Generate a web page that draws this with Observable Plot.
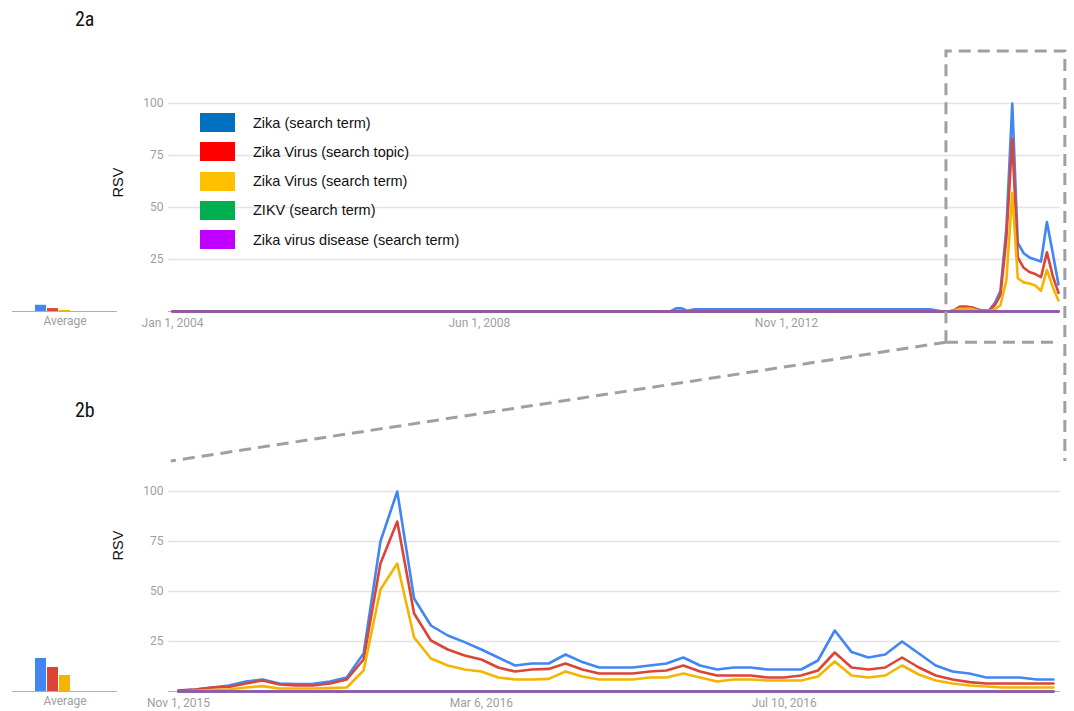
<!DOCTYPE html>
<html><head><meta charset="utf-8">
<script src="https://cdn.jsdelivr.net/npm/d3@7"></script>
<script src="https://cdn.jsdelivr.net/npm/@observablehq/plot@0.6"></script>
<style>
body{margin:0;background:#fff;}
#page{position:relative;width:1074px;height:711px;overflow:hidden;font-family:Roboto,sans-serif;background:#fff;}
#page svg{position:absolute;left:0;}
.title{position:absolute;font-family:"Liberation Sans Narrow","Roboto Condensed",Arial,sans-serif;font-size:20px;color:#111;line-height:20px;}
.legend-row{position:absolute;left:200px;height:19px;display:flex;align-items:center;font-family:"Liberation Sans",Arial,sans-serif;font-size:14.5px;color:#111;white-space:nowrap;}
.sw{width:35px;height:19px;margin-right:18px;}
</style></head><body><div id="page"></div>
<script>
// ---------- data ----------
const seriesNames = ["Zika (search term)", "Zika Virus (search topic)", "Zika Virus (search term)", "ZIKV (search term)", "Zika virus disease (search term)"];
const lineColors = ["#4285F4", "#DB4437", "#F4B400", "#0F9D58", "#AB47BC"];
const legendColors = ["#0070C0", "#FF0000", "#FFC000", "#00B050", "#C000FF"];

// 2a: monthly RSV, Jan 2004 .. Oct 2016 (one row per year)
const topBlue = [
 0,0,0,0,0,0,0,0,0,0,0,0,
 0,0,0,0,0,0,0,0,0,0,0,0,
 0,0,0,0,0,0,0,0,0,0,0,0,
 0,0,0,0,0,0,0,0,0,0,0,0,
 0,0,0,0,0,0,0,0,0,0,0,0,
 0,0,0,0,0,0,0,0,0,0,0,0,
 0,0,0,0,0,0,0,0,0,0,0,0,
 0,0,0,1.5,1.5,0.3,1,1,1,1,1,1,
 1,1,1,1,1,1,1,1,1,1,1,1,
 1,1,1,1,1,1,1,1,1,1,1,1,
 1,1,1,1,1,1,1,1,1,1,1,1,
 0.5,0,0,0.5,2,2,2,1,0.5,0.5,4,10,
 40,100,33,28,26,25,24,43,28,13];
const topRed = [
 0,0,0,0,0,0,0,0,0,0,0,0,
 0,0,0,0,0,0,0,0,0,0,0,0,
 0,0,0,0,0,0,0,0,0,0,0,0,
 0,0,0,0,0,0,0,0,0,0,0,0,
 0,0,0,0,0,0,0,0,0,0,0,0,
 0,0,0,0,0,0,0,0,0,0,0,0,
 0,0,0,0,0,0,0,0,0,0,0,0,
 0,0,0,0,0,0,0,0,0,0,0,0,
 0,0,0,0,0,0,0,0,0,0,0,0,
 0,0,0,0,0,0,0,0,0,0,0,0,
 0,0,0,0,0,0,0,0,0,0,0,0,
 0,0,0,0.5,2.4,2.4,2,1,0.3,0.3,3,8,
 35,83,26,21,19,18,16.5,28.5,17,9];
const topYellow = [
 0,0,0,0,0,0,0,0,0,0,0,0,
 0,0,0,0,0,0,0,0,0,0,0,0,
 0,0,0,0,0,0,0,0,0,0,0,0,
 0,0,0,0,0,0,0,0,0,0,0,0,
 0,0,0,0,0,0,0,0,0,0,0,0,
 0,0,0,0,0,0,0,0,0,0,0,0,
 0,0,0,0,0,0,0,0,0,0,0,0,
 0,0,0,0,0,0,0,0,0,0,0,0,
 0,0,0,0,0,0,0,0,0,0,0,0,
 0,0,0,0,0,0,0,0,0,0,0,0,
 0,0,0,0,0,0,0,0,0,0,0,0,
 0,0,0,0.3,1.3,1.3,1.3,0.5,0.2,0.2,1,3,
 15,57,16,14,13.5,12.5,10,20,11.7,5.3];
const topGreen = [
 0,0,0,0,0,0,0,0,0,0,0,0,
 0,0,0,0,0,0,0,0,0,0,0,0,
 0,0,0,0,0,0,0,0,0,0,0,0,
 0,0,0,0,0,0,0,0,0,0,0,0,
 0,0,0,0,0,0,0,0,0,0,0,0,
 0,0,0,0,0,0,0,0,0,0,0,0,
 0,0,0,0,0,0,0,0,0,0,0,0,
 0,0,0,0,0,0,0,0,0,0,0,0,
 0,0,0,0,0,0,0,0,0,0,0,0,
 0,0,0,0,0,0,0,0,0,0,0,0,
 0,0,0,0,0,0,0,0,0,0,0,0,
 0,0,0,0,0,0,0,0,0,0,0,0,
 0,0,0,0,0,0,0,0,0,0];
const topPurple = [
 0,0,0,0,0,0,0,0,0,0,0,0,
 0,0,0,0,0,0,0,0,0,0,0,0,
 0,0,0,0,0,0,0,0,0,0,0,0,
 0,0,0,0,0,0,0,0,0,0,0,0,
 0,0,0,0,0,0,0,0,0,0,0,0,
 0,0,0,0,0,0,0,0,0,0,0,0,
 0,0,0,0,0,0,0,0,0,0,0,0,
 0,0,0,0,0,0,0,0,0,0,0,0,
 0,0,0,0,0,0,0,0,0,0,0,0,
 0,0,0,0,0,0,0,0,0,0,0,0,
 0,0,0,0,0,0,0,0,0,0,0,0,
 0,0,0,0,0,0,0,0,0,0,0,0,
 0,0,0,0,0,0,0,0,0,0];
const topStart = "2004-01-01";
const topTicks = ["2004-01-01", "2008-06-01", "2012-11-01"];
const topAverages = [3, 1.4, 0.5, 0, 0];

// 2b: weekly RSV, Nov 1 2015 .. Oct 30 2016
const botBlue = [0.5,1,2,3,5,6,4,3.7,3.8,5,7,19,75,100,46.5,33,28,24.7,21,17,13,14,14,18.5,14.7,12,12,12,13,14,17,13,11,12,12,11,11,11,15.5,30.5,19.7,17,18.5,25,19,13,10,9,7,7,7,6,6];
const botRed = [0.5,1,2,2.3,4,5.5,3.5,3,3,4,6,16,64,85,39,25.5,21,18,16,12,10,11,11.3,14,11,9,9,9,10,10.5,13,10,8,8,8,7,7,8,10.5,19.5,12,11,12,17,12,8,6,4.7,4,4,4,4,4];
const botYellow = [0,0.3,0.7,1,2,2.7,1.5,1.5,1.5,1.7,2,10.5,51,64,27,16.5,13,11,10,7,6,6,6.3,10,7.5,6,6,6,7,7,9,7,5,6,6,5.5,5.5,5.5,7.5,15,8,7,8,13,8.5,5.5,4,3,2.5,2,2,2,2];
const botGreen = [0,0,0,0,0,0,0,0,0,0,0,0,0,0,0,0,0,0,0,0,0,0,0,0,0,0,0,0,0,0,0,0,0,0,0,0,0,0,0,0,0,0,0,0,0,0,0,0,0,0,0,0,0];
const botPurple = [0,0,0,0,0,0,0,0,0,0,0,0,0,0,0,0,0,0,0,0,0,0,0,0,0,0,0,0,0,0,0,0,0,0,0,0,0,0,0,0,0,0,0,0,0,0,0,0,0,0,0,0,0];
const botStart = "2015-11-01";
const botTicks = ["2015-11-01", "2016-03-06", "2016-07-10"];
const botAverages = [16.5, 12, 8, 0, 0];
const yTicks = [25, 50, 75, 100];

(function () {
// ---------- build tables ----------
const topSeries = [topBlue, topRed, topYellow, topGreen, topPurple];
const botSeries = [botBlue, botRed, botYellow, botGreen, botPurple];
const t0 = new Date(topStart + "T00:00:00Z");
const b0 = new Date(botStart + "T00:00:00Z");
const monthDate = i => new Date(Date.UTC(t0.getUTCFullYear(), t0.getUTCMonth() + i, 1));
const weekDate = i => new Date(b0.getTime() + i * 7 * 864e5);
const topData = topSeries.flatMap((arr, s) => arr.map((v, i) => ({series: seriesNames[s], date: monthDate(i), value: v})));
const botData = botSeries.flatMap((arr, s) => arr.map((v, i) => ({series: seriesNames[s], date: weekDate(i), value: v})));
const toDate = s => new Date(s + "T00:00:00Z");
const fmt = d3.utcFormat("%b %-d, %Y");

const page = document.getElementById("page");
const common = {width: 1074, height: 340, marginLeft: 168, marginRight: 14, marginBottom: 29};
const style = {background: "transparent", overflow: "visible", color: "#9e9e9e", fontFamily: "Roboto, sans-serif", fontSize: "12px"};

function mainChart(data, x0, x1, xRange, ticks, marginTop, rsvDy) {
  return Plot.plot({
    ...common, marginTop, style,
    x: {type: "utc", domain: [x0, x1], range: xRange},
    y: {domain: [0, 100]},
    color: {domain: seriesNames, range: lineColors},
    marks: [
      Plot.ruleY(yTicks, {stroke: "#e4e4e4", strokeWidth: 1.3}),
      Plot.ruleY([0], {stroke: "#b0b0b0", strokeWidth: 1.2}),
      Plot.axisY({ticks: yTicks, tickSize: 0, tickPadding: 5, label: null}),
      Plot.axisX({ticks: ticks.map(toDate), tickSize: 0, tickPadding: 7, tickFormat: fmt, label: null}),
      Plot.lineY(data, {x: "date", y: "value", z: "series", stroke: "series", strokeWidth: 2.6, curve: "linear"}),
      Plot.text(["RSV"], {frameAnchor: "left", dx: -50, dy: rsvDy, rotate: -90, fontSize: 14.5, fill: "#111", fontFamily: "Liberation Sans, Arial, sans-serif"})
    ]
  });
}
function avgChart(values, marginTop) {
  const data = values.map((v, i) => ({series: seriesNames[i], value: v}));
  return Plot.plot({
    width: 130, height: 340, marginLeft: 12, marginRight: 13, marginBottom: 29, marginTop, style,
    x: {type: "band", domain: seriesNames, range: [32, 97], padding: 0.06, axis: null},
    y: {domain: [0, 100], axis: null},
    color: {domain: seriesNames, range: lineColors},
    marks: [
      Plot.barY(data, {x: "series", y: "value", fill: "series"}),
      Plot.ruleY([0], {stroke: "#b0b0b0", strokeWidth: 1.2}),
      Plot.text(["Average"], {frameAnchor: "bottom", dy: 13, fontSize: 12, fill: "#9e9e9e"})
    ]
  });
}

const topPlot = mainChart(topData, monthDate(0), monthDate(topBlue.length - 1), [172, 1058], topTicks, 103, -10);
const botPlot = mainChart(botData, weekDate(0), weekDate(botBlue.length - 1), [178, 1053], botTicks, 111, -31);
const topAvg = avgChart(topAverages, 103);
const botAvg = avgChart(botAverages, 111);
topPlot.style.top = "0px"; topAvg.style.top = "0px";
botPlot.style.top = "380px"; botAvg.style.top = "380px";
page.append(topPlot, topAvg, botPlot, botAvg);

// titles
[["2a", 9], ["2b", 400]].forEach(([t, y]) => {
  const d = document.createElement("div");
  d.className = "title"; d.textContent = t;
  d.style.left = "75px"; d.style.top = y + "px";
  page.append(d);
});

// legend
seriesNames.forEach((name, i) => {
  const row = document.createElement("div");
  row.className = "legend-row";
  row.style.top = (113 + i * 29.3) + "px";
  const sw = document.createElement("div");
  sw.className = "sw"; sw.style.background = legendColors[i];
  const tx = document.createElement("span"); tx.textContent = name;
  row.append(sw, tx);
  page.append(row);
});

// zoom callout (dashed), positioned through the charts' own scales
const xT = topPlot.scale("x"), yT = topPlot.scale("y");
const xB = botPlot.scale("x"), yB = botPlot.scale("y");
const boxLeft = xT.apply(toDate("2015-02-20"));
const boxRight = xT.apply(toDate("2016-11-06"));
const boxTop = yT.apply(125), boxBottom = yT.apply(-15);
const endX = xB.apply(toDate("2015-10-29")), endY = 380 + yB.apply(115);
const ov = d3.create("svg").attr("width", 1074).attr("height", 711).style("top", "0px").style("pointer-events", "none");
ov.append("path")
  .attr("d", `M${boxLeft},${boxBottom}L${boxLeft},${boxTop}L${boxRight},${boxTop}L${boxRight},${endY}M${boxLeft},${boxBottom}L${boxRight - 8},${boxBottom}M${boxLeft},${boxBottom}L${endX},${endY}`)
  .attr("fill", "none").attr("stroke", "#a0a0a0").attr("stroke-width", 3).attr("stroke-dasharray", "12,7");
page.append(ov.node());
})();
</script>
</body></html>
